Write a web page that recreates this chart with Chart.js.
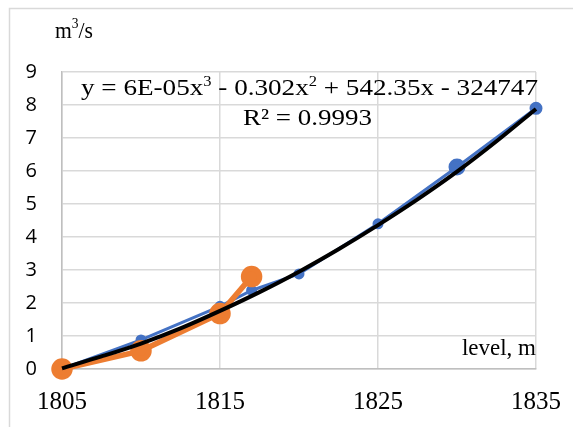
<!DOCTYPE html>
<html>
<head>
<meta charset="utf-8">
<script src="https://cdn.jsdelivr.net/npm/chart.js@4/dist/chart.umd.min.js"></script>
<style>
  html, body { margin: 0; padding: 0; background: #fff; }
  #wrap { width: 573px; height: 427px; position: relative; }
</style>
</head>
<body>
<div id="wrap"><canvas id="c" width="573" height="427"></canvas></div>
<script>
// Discharge vs. water level
const levels = [1805, 1810, 1815, 1817, 1820, 1825, 1830, 1835];
const dischargeA = [0, 0.88, 1.9, 2.38, 2.88, 4.4, 6.12, 7.9];
const levelsB = [1805, 1810, 1815, 1817];
const dischargeB = [0, 0.55, 1.68, 2.8];
// Polynomial trendline, sampled along the curve
const trendLevels = [1805, 1807.5, 1810, 1812.5, 1815, 1817.5, 1820, 1822.5, 1825, 1827.5, 1830, 1832.5, 1835];
const trendValues = [0.02, 0.38, 0.77, 1.23, 1.76, 2.33, 2.95, 3.63, 4.36, 5.14, 5.98, 6.9, 7.88];
const xTicks = [1805, 1815, 1825, 1835];
const yTicks = [0, 1, 2, 3, 4, 5, 6, 7, 8, 9];
// Trendline label pieces: [text, superscript?]
const equationParts = [['y = 6E-05x', false], ['3', true], [' - 0.302x', false], ['2', true], [' + 542.35x - 324747', false]];
const rSquaredParts = [['R\u00B2 = 0.9993', false]];

const pairs = (xs, ys) => xs.map((x, i) => ({ x: x, y: ys[i] }));

const serif = '"Liberation Serif", "Times New Roman", serif';
const sans = '"Open Sans", "Noto Sans", sans-serif';

// Draws a run of text with superscript pieces, stretched to a given width
function drawRich(ctx, parts, left, width, baseline, size) {
  const supSize = Math.round(size * 0.62);
  let total = 0;
  parts.forEach(([t, sup]) => {
    ctx.font = (sup ? supSize : size) + 'px ' + serif;
    total += ctx.measureText(t).width;
  });
  const k = width / total;
  ctx.save();
  ctx.translate(left, baseline);
  ctx.scale(k, 1);
  let x = 0;
  parts.forEach(([t, sup]) => {
    ctx.font = (sup ? supSize : size) + 'px ' + serif;
    ctx.fillText(t, x, sup ? -size * 0.4 : 0);
    x += ctx.measureText(t).width;
  });
  ctx.restore();
}

const decorations = {
  id: 'decorations',
  beforeDraw(chart) {
    const ctx = chart.ctx;
    ctx.save();
    ctx.strokeStyle = '#d9d9d9';
    ctx.lineWidth = 1.5;
    ctx.strokeRect(9.5, 8.5, 600, 500);
    ctx.restore();
  },
  afterDraw(chart) {
    const ctx = chart.ctx;
    const area = chart.chartArea;
    ctx.save();
    ctx.fillStyle = '#000';
    ctx.textBaseline = 'alphabetic';
    ctx.textAlign = 'left';
    // y unit
    drawRich(ctx, [['m', false], ['3', true], ['/s', false]], 55, 38, 38, 24);
    // x unit
    ctx.font = '23px ' + serif;
    ctx.textAlign = 'right';
    ctx.fillText('level, m', area.right, 355);
    ctx.textAlign = 'left';
    // trendline label
    drawRich(ctx, equationParts, 81, 457, 95, 23);
    drawRich(ctx, rSquaredParts, 243, 129, 125, 23);
    ctx.restore();
  }
};

new Chart(document.getElementById('c'), {
  type: 'scatter',
  data: {
    datasets: [
      {
        label: 'A',
        data: pairs(levels, dischargeA),
        showLine: true,
        borderColor: '#4472c4',
        backgroundColor: '#4472c4',
        borderWidth: 3,
        pointRadius: [4, 4, 4, 4, 4, 4, 7, 5],
        pointHoverRadius: 0,
        order: 3
      },
      {
        label: 'B',
        data: pairs(levelsB, dischargeB),
        showLine: true,
        borderColor: '#ed7d31',
        backgroundColor: '#ed7d31',
        borderWidth: 5.5,
        pointRadius: 8,
        pointHoverRadius: 0,
        order: 2
      },
      {
        label: 'Trend',
        data: pairs(trendLevels, trendValues),
        showLine: true,
        borderColor: '#000',
        borderWidth: 4,
        pointRadius: 0,
        cubicInterpolationMode: 'monotone',
        order: 1
      }
    ]
  },
  options: {
    responsive: false,
    animation: false,
    events: [],
    clip: false,
    layout: { padding: { left: 10, right: 37, top: 72, bottom: 0 } },
    plugins: { legend: { display: false }, tooltip: { enabled: false } },
    scales: {
      x: {
        type: 'linear',
        min: 1805,
        max: 1835,
        afterBuildTicks(scale) { scale.ticks = xTicks.map(v => ({ value: v })); },
        afterFit(scale) {
          scale.height = 58;
          scale.paddingLeft = 0;
          scale.paddingRight = 0;
        },
        grid: { color: '#d9d9d9', lineWidth: 1.5, drawTicks: false },
        border: { color: '#bfbfbf', width: 1.5 },
        ticks: {
          padding: 18, color: '#000', font: { family: serif, size: 25 },
          callback: v => String(v)
        }
      },
      y: {
        min: 0,
        max: 9,
        afterBuildTicks(scale) { scale.ticks = yTicks.map(v => ({ value: v })); },
        afterFit(scale) {
          scale.width = 52;
          scale.paddingTop = 0;
          scale.paddingBottom = 0;
        },
        grid: { color: '#d9d9d9', lineWidth: 1.5, drawTicks: false },
        border: { color: '#bfbfbf', width: 1.5 },
        ticks: { padding: 25, color: '#000', font: { family: sans, size: 20 } }
      }
    }
  },
  plugins: [decorations]
});
</script>
</body>
</html>
